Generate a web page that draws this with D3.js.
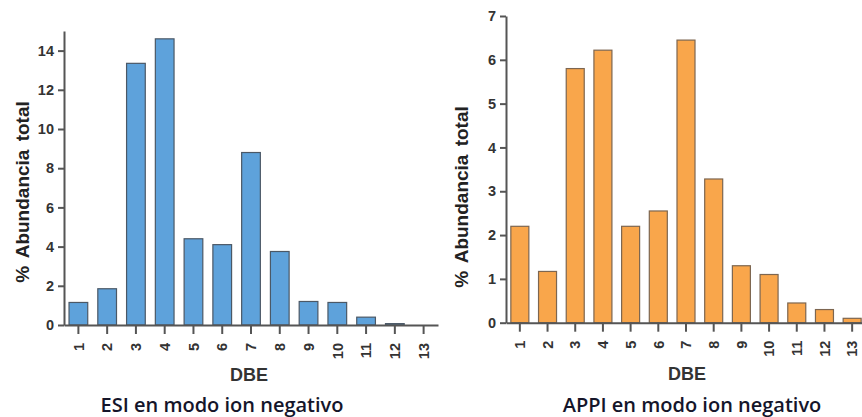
<!DOCTYPE html>
<html>
<head>
<meta charset="utf-8">
<script src="https://cdn.jsdelivr.net/npm/d3@7"></script>
<style>
  body { margin: 0; background: #fff; }
  svg { display: block; }
  .axis text { font-family: "Liberation Sans", Arial, sans-serif; font-weight: bold; font-size: 14.5px; fill: #333; }
  .axis path, .axis line { stroke: #555; stroke-width: 2; }
</style>
</head>
<body>
<svg id="chart" width="862" height="417"></svg>
<script>
const width = 862;
const height = 417;

// DBE categories (shared by both panels)
const dbe = [1, 2, 3, 4, 5, 6, 7, 8, 9, 10, 11, 12, 13];

// % abundancia total
const esiValues = [1.15, 1.85, 13.35, 14.6, 4.4, 4.1, 8.8, 3.75, 1.2, 1.15, 0.4, 0.07, 0];
const appiValues = [2.2, 1.17, 5.8, 6.22, 2.2, 2.55, 6.45, 3.28, 1.3, 1.1, 0.45, 0.3, 0.1];

const esiTicks = [0, 2, 4, 6, 8, 10, 12, 14];
const appiTicks = [0, 1, 2, 3, 4, 5, 6, 7];

const svg = d3.select('#chart');

function drawPanel(opts) {
  const g = svg.append('g');

  const x = d3.scaleBand()
    .domain(dbe)
    .range(opts.xRange)
    .paddingInner(0.35)
    .paddingOuter(0.175);

  const y = d3.scaleLinear()
    .domain([0, opts.yMax])
    .range(opts.yRange);

  // bars
  g.selectAll('.bar')
    .data(opts.values)
    .enter()
    .append('rect')
    .attr('class', 'bar')
    .attr('x', (d, i) => x(dbe[i]))
    .attr('y', d => y(d))
    .attr('width', x.bandwidth())
    .attr('height', d => y(0) - y(d))
    .attr('fill', opts.fill)
    .attr('stroke', opts.stroke)
    .attr('stroke-width', 1.2);

  // y axis
  g.append('g')
    .attr('class', 'axis')
    .attr('transform', `translate(${opts.xRange[0]}, 0)`)
    .call(d3.axisLeft(y)
      .tickValues(opts.ticks)
      .tickFormat(d3.format('d'))
      .tickSize(6)
      .tickSizeOuter(0)
      .tickPadding(4));

  // x axis
  const xAxis = g.append('g')
    .attr('class', 'axis')
    .attr('transform', `translate(0, ${y(0)})`)
    .call(d3.axisBottom(x).tickSize(9).tickSizeOuter(0));

  xAxis.selectAll('text')
    .attr('transform', 'rotate(-90)')
    .attr('text-anchor', 'end')
    .attr('x', -18)
    .attr('y', 0)
    .attr('dy', '0.36em');

  // axis titles
  g.append('text')
    .attr('transform', `translate(${opts.yTitle[0]}, ${opts.yTitle[1]}) rotate(-90)`)
    .attr('text-anchor', 'middle')
    .style('font-family', '"Liberation Sans", Arial, sans-serif')
    .style('font-weight', 'bold')
    .style('font-size', '19px')
    .style('word-spacing', '3px')
    .attr('fill', '#222')
    .text('% Abundancia total');

  g.append('text')
    .attr('x', opts.xTitle[0])
    .attr('y', opts.xTitle[1])
    .attr('text-anchor', 'middle')
    .style('font-family', '"Liberation Sans", Arial, sans-serif')
    .style('font-weight', 'bold')
    .style('font-size', '18px')
    .attr('fill', '#333')
    .text('DBE');

  // caption
  g.append('text')
    .attr('x', opts.caption[0])
    .attr('y', opts.caption[1])
    .attr('text-anchor', 'middle')
    .style('font-family', '"Open Sans", "Noto Sans", sans-serif')
    .style('font-size', '20px')
    .style('font-weight', '600')
    .attr('fill', '#15152a')
    .text(opts.captionText);
}

drawPanel({
  values: esiValues,
  ticks: esiTicks,
  yMax: 15,
  xRange: [64, 438],
  yRange: [325, 31],
  fill: '#5ea2db',
  stroke: '#4b5866',
  yTitle: [29, 192],
  xTitle: [249, 381],
  caption: [222, 412],
  captionText: 'ESI en modo ion negativo'
});

drawPanel({
  values: appiValues,
  ticks: appiTicks,
  yMax: 7,
  xRange: [506, 866],
  yRange: [322.7, 16],
  fill: '#f9a64b',
  stroke: '#7d6650',
  yTitle: [468, 197],
  xTitle: [687, 380],
  caption: [692, 412],
  captionText: 'APPI en modo ion negativo'
});
</script>
</body>
</html>
